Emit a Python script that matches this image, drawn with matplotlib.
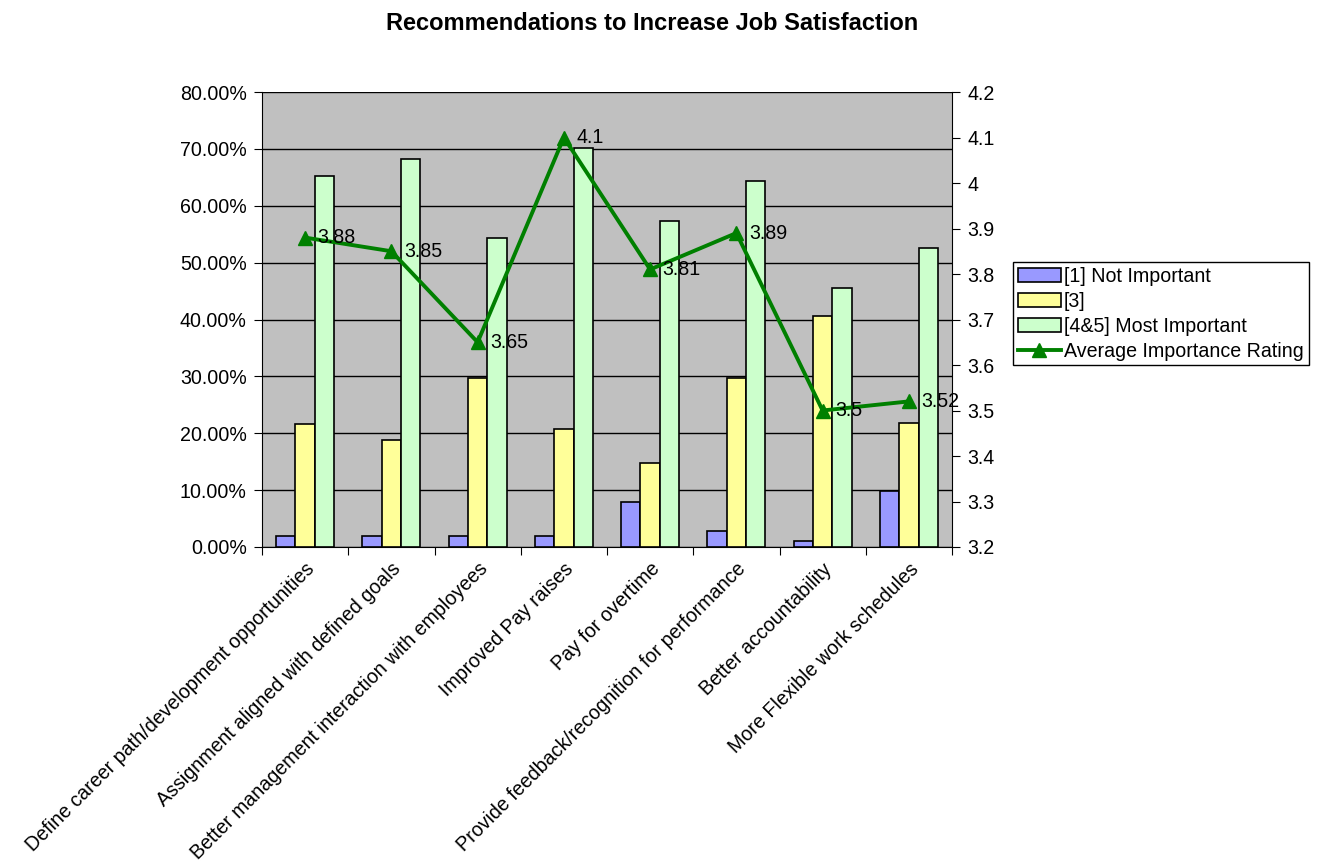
import matplotlib
matplotlib.use("Agg")
import matplotlib.pyplot as plt
import numpy as np
from matplotlib.ticker import FuncFormatter, MultipleLocator

plt.rcParams['font.family'] = ['Liberation Sans', 'DejaVu Sans']

categories = [
    "Define career path/development opportunities",
    "Assignment aligned with defined goals",
    "Better management interaction with employees",
    "Improved Pay raises",
    "Pay for overtime",
    "Provide feedback/recognition for performance",
    "Better accountability",
    "More Flexible work schedules",
]
not_important = [2.0, 2.0, 2.0, 2.0, 7.9, 2.9, 1.0, 9.9]
rating3 = [21.7, 18.8, 29.7, 20.7, 14.8, 29.7, 40.6, 21.8]
most_important = [65.2, 68.2, 54.4, 70.2, 57.4, 64.4, 45.5, 52.5]
avg_rating = [3.88, 3.85, 3.65, 4.1, 3.81, 3.89, 3.5, 3.52]
series_names = ["[1] Not Important", "[3]", "[4&5] Most Important", "Average Importance Rating"]

FS = 14.1
W, H = 1318, 865
fig = plt.figure(figsize=(W / 100, H / 100), dpi=100)
left, right, top, bottom = 262, 952, 92, 547
ax = fig.add_axes([left / W, 1 - bottom / H, (right - left) / W, (bottom - top) / H])
ax.set_facecolor("#C0C0C0")

x = np.arange(len(categories))
bw = 0.224
colors = ["#9999FF", "#FFFF99", "#CCFFCC"]
handles = []
for i, (vals, c) in enumerate(zip([not_important, rating3, most_important], colors)):
    b = ax.bar(x + (i - 1) * bw, vals, bw, color=c, edgecolor="black", linewidth=1.2,
               label=series_names[i], zorder=3)
    handles.append(b)

ax.set_xlim(-0.5, len(categories) - 0.5)
ax.set_ylim(0, 80)
ax.yaxis.set_major_locator(MultipleLocator(10))
ax.yaxis.set_major_formatter(FuncFormatter(lambda v, p: f"{v:.2f}%"))
ax.grid(axis="y", color="black", linewidth=1, zorder=1)
ax.set_axisbelow(True)
ax.set_xticks(np.arange(-0.5, len(categories), 1.0))
ax.set_xticklabels([])
ax.set_xticks(x, minor=True)
ax.set_xticklabels(categories, minor=True, rotation=45, ha="right", va="top",
                   rotation_mode="anchor", fontsize=FS)
ax.tick_params(axis="x", which="minor", length=0, pad=9)
ax.tick_params(axis="x", which="major", length=6, direction="out")
ax.tick_params(axis="y", labelsize=FS, length=6, direction="out", pad=5)
for s in ["top", "right"]:
    ax.spines[s].set_visible(False)
ax.spines["left"].set_color("black")
ax.spines["bottom"].set_color("black")

ax2 = ax.twinx()
ax2.set_ylim(3.2, 4.2)
ax2.yaxis.set_major_locator(MultipleLocator(0.1))
ax2.yaxis.set_major_formatter(FuncFormatter(lambda v, p: f"{round(v, 1):g}"))
ax2.tick_params(axis="y", labelsize=FS, length=6, direction="out", pad=5)
for s in ["top", "left", "bottom"]:
    ax2.spines[s].set_visible(False)
ax2.spines["right"].set_color("black")
line, = ax2.plot(x, avg_rating, color="#008000", linewidth=2.8, marker="^",
                 markersize=10, label=series_names[3], zorder=5)
for xi, v in zip(x, avg_rating):
    ax2.annotate(f"{v:g}", (xi, v), xytext=(9, 0), textcoords="offset points",
                 ha="left", va="center", fontsize=FS, zorder=6)

fig.text(652 / W, 1 - 24 / H, "Recommendations to Increase Job Satisfaction",
         ha="center", va="center", fontsize=17, fontweight="bold")

leg = fig.legend(handles + [line], series_names, loc="upper left",
                 bbox_to_anchor=(1013 / W, 1 - 262 / H), fontsize=FS,
                 frameon=True, fancybox=False, edgecolor="black", framealpha=1,
                 handlelength=2.2, handleheight=0.7, borderpad=0.25, labelspacing=0.3,
                 handletextpad=0.15, borderaxespad=0)
leg.get_frame().set_linewidth(1)

fig.savefig("out.png", dpi=100)
